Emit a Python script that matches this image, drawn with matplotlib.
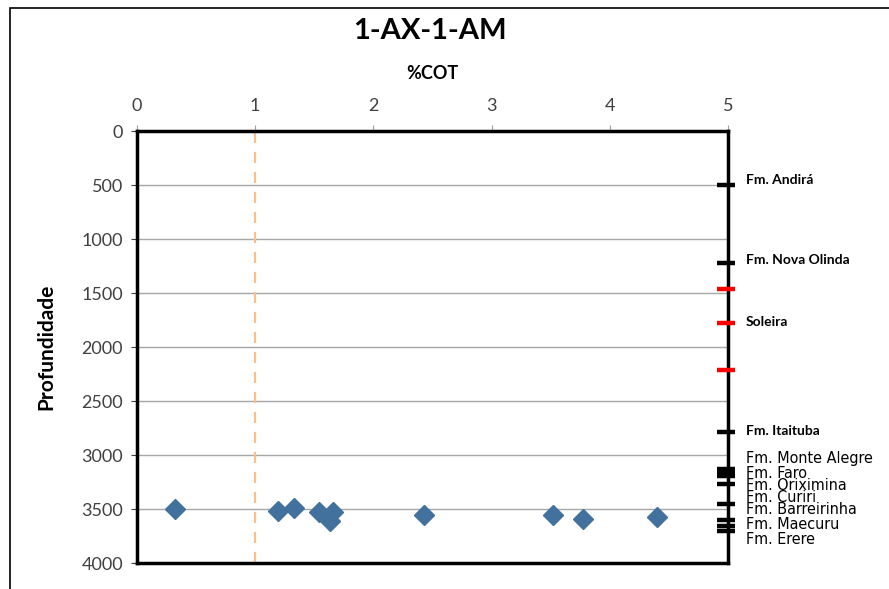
import matplotlib
matplotlib.use("Agg")
import matplotlib.pyplot as plt
from matplotlib.patches import Rectangle

# %COT samples (x) and depth (y)
cot = [0.32, 1.19, 1.33, 1.54, 1.66, 1.63, 2.43, 3.52, 3.77, 4.40]
depth = [3500, 3515, 3493, 3524, 3530, 3607, 3560, 3553, 3590, 3570]

# formation tops drawn as ticks on the right edge
top_depths = [500, 1225, 1466, 1781, 2213, 2784, 3125, 3160, 3195, 3268, 3458, 3605, 3655, 3708]
top_colors = ['black', 'black', 'red', 'red', 'red', 'black', 'black', 'black', 'black',
              'black', 'black', 'black', 'black', 'black']

# labels of the formations
upper_names = ['Fm. Andirá', 'Fm. Nova Olinda', 'Soleira', 'Fm. Itaituba']
upper_depths = [454, 1194, 1769, 2778]
lower_names = ['Fm. Monte Alegre', 'Fm. Faro', 'Fm. Oriximina', 'Fm. Curiri',
               'Fm. Barreirinha', 'Fm. Maecuru', 'Fm. Erere']
lower_depths = [3037, 3167, 3278, 3389, 3500, 3639, 3778]

cutoff = 1.0

plt.rcParams['font.family'] = ['Lato', 'DejaVu Sans']

fig = plt.figure(figsize=(8.89, 5.89), dpi=100)
fig.patches.append(Rectangle((10 / 889, -0.1), 1.2, 1 - 8 / 589 + 0.1, transform=fig.transFigure,
                             fill=False, edgecolor='black', linewidth=1.2))

ax = fig.add_axes([137 / 889, 1 - 563 / 589, 591 / 889, 432 / 589])
ax.set_xlim(0, 5)
ax.set_ylim(4000, 0)
ax.set_yticks(range(0, 4001, 500))
ax.set_xticks(range(0, 6))
ax.xaxis.tick_top()
ax.xaxis.set_label_position('top')
ax.tick_params(axis='both', labelsize=13, colors='#404040', length=4, width=0.8)
ax.tick_params(axis='x', colors='#A0A0A0', labelcolor='#404040', pad=8)
ax.tick_params(axis='y', labelcolor='#404040', pad=6)
ax.yaxis.grid(True, color='#A6A6A6', linewidth=1)
ax.set_axisbelow(True)
for sp in ax.spines.values():
    sp.set_linewidth(2.5)
    sp.set_color('black')

ax.set_xlabel('%COT', fontsize=13, fontweight='bold', labelpad=14)
ax.set_ylabel('Profundidade', fontsize=15, fontweight='bold', labelpad=18)
fig.text(430 / 889, 1 - 31 / 589, '1-AX-1-AM', fontsize=21, fontweight='bold',
         ha='center', va='center')

ax.axvline(cutoff, color='#F9BF8F', linewidth=1.6, linestyle=(0, (5, 4)))

ax.plot(cot, depth, linestyle='none', marker='D', markersize=10, color='#41719C',
        markeredgecolor='#41719C', zorder=5)

for d, c in zip(top_depths, top_colors):
    ax.plot([4.985], [d], marker='_', markersize=13, markeredgewidth=3.2, color=c,
            clip_on=False, zorder=6)

for name, d in zip(upper_names, upper_depths):
    ax.text(5.15, d, name, fontsize=10, fontweight='bold', ha='left', va='center',
            clip_on=False)
for name, d in zip(lower_names, lower_depths):
    ax.text(5.15, d, name, fontsize=11.5, ha='left', va='center', clip_on=False,
            family=['Liberation Sans Narrow', 'DejaVu Sans'], stretch='condensed')

fig.savefig('out.png', dpi=100)
